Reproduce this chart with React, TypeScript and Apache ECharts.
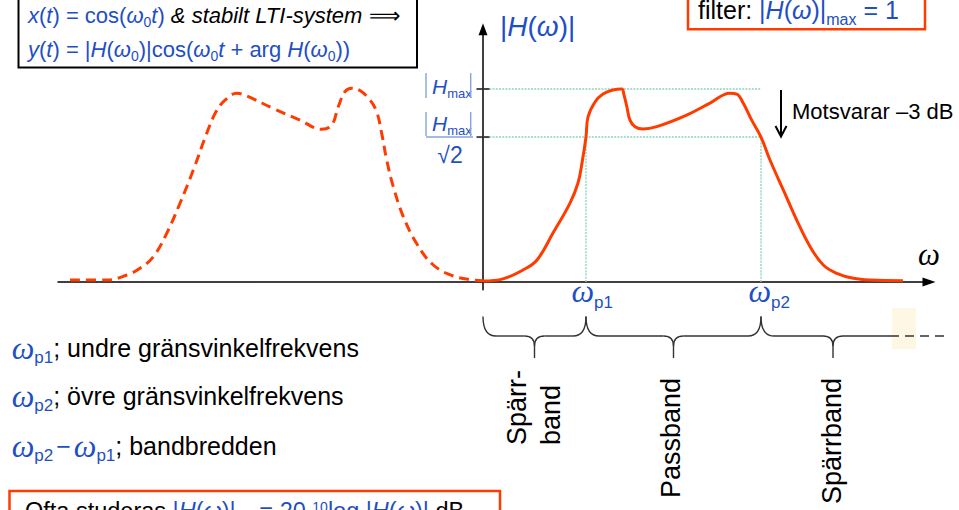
import React, { useEffect, useRef } from "react";
import * as echarts from "echarts";

// ---------- data ----------
// passband magnitude |H(w)| for w >= 0 (solid curve)
const omegaRight = [0.0, 0.2, 0.4, 0.54, 0.7, 0.87, 0.95, 0.99, 1.03, 1.05, 1.12, 1.2, 1.3, 1.387, 1.41, 1.437, 1.47, 1.52, 1.6, 1.737, 2.037, 2.27, 2.47, 2.537, 2.603, 2.687, 2.78, 2.87, 3.003, 3.137, 3.27, 3.403, 3.537, 3.703, 3.87, 4.2];
const magRight = [0.005, 0.016, 0.062, 0.114, 0.254, 0.409, 0.513, 0.616, 0.751, 0.855, 0.933, 0.974, 0.995, 1.0, 0.969, 0.912, 0.839, 0.805, 0.793, 0.805, 0.865, 0.927, 0.978, 0.974, 0.926, 0.839, 0.751, 0.632, 0.477, 0.321, 0.184, 0.088, 0.045, 0.019, 0.01, 0.007];
// mirrored magnitude for w < 0 (dashed curve)
const omegaLeft = [-4.13, -3.763, -3.563, -3.43, -3.297, -3.163, -3.03, -2.897, -2.763, -2.663, -2.563, -2.463, -2.363, -2.097, -1.83, -1.613, -1.513, -1.447, -1.38, -1.313, -1.23, -1.13, -1.063, -1.013, -0.963, -0.897, -0.797, -0.663, -0.497, -0.297, -0.097, 0.0];
const magLeft = [0.01, 0.01, 0.036, 0.071, 0.131, 0.252, 0.408, 0.58, 0.77, 0.889, 0.95, 0.978, 0.964, 0.899, 0.839, 0.791, 0.813, 0.908, 0.986, 1.004, 0.992, 0.943, 0.882, 0.77, 0.632, 0.494, 0.339, 0.199, 0.088, 0.031, 0.01, 0.007];
// levels and band edges
const H_MAX = 1;
const H_CUT = 0.751;
const W_P1 = 1.03;
const W_P2 = 2.78;
const STOP_CENTER = 3.5;
const ARROW_AT = 2.98;
// texts
const bandLabels = ["Spärr-\nband", "Passband", "Spärrband"];
const leftLines = [
  "{w|ω}{s|p1}{k|; undre gränsvinkelfrekvens}",
  "{w|ω}{s|p2}{k|; övre gränsvinkelfrekvens}",
  "{w|ω}{s|p2}{m|−}{w|ω}{s|p1}{k|; bandbredden}",
];

const ORANGE = "#ff3c00";
const BLUE = "#1f4fc4";
const LIGHTBLUE = "#86a2e2";
const GREEN = "#8ed5bb";
const SANS = "'Liberation Sans', Arial, Helvetica, sans-serif";
const SERIF = "'Liberation Serif', 'Times New Roman', serif";

function zip(a: number[], b: number[]) {
  return a.map((v, i) => [v, b[i]]);
}

function rs(fill: string, size: number, lh: number, extra: any = {}) {
  return { fill, fontSize: size, fontFamily: SANS, lineHeight: lh, verticalAlign: "middle", ...extra };
}

function textEl(x: number, y: number, text: string, rich: any, opts: any = {}) {
  const align = opts.align || "left";
  return {
    type: "text",
    x,
    y,
    rotation: opts.rotation || 0,
    silent: true,
    z: 20,
    style: {
      text,
      rich,
      align,
      textAlign: align,
      verticalAlign: "middle",
      textVerticalAlign: "middle",
      fill: opts.fill || "#000",
      fontSize: opts.fontSize || 20,
      fontFamily: opts.fontFamily || SANS,
      fontStyle: opts.fontStyle || "normal",
      lineHeight: opts.lineHeight,
    },
  };
}

function brace(xa: number, xm: number, xb: number | null, xEnd: number, y0: number, y1: number, y2: number) {
  const s = { stroke: "#333", lineWidth: 1.4, fill: "none" };
  const r = 13;
  const r2 = 10;
  const els: any[] = [
    { type: "bezierCurve", shape: { x1: xa, y1: y0, cpx1: xa, cpy1: y1, x2: xa + r, y2: y1 }, style: s },
    { type: "line", shape: { x1: xa + r, y1: y1, x2: xm - r2, y2: y1 }, style: s },
    { type: "bezierCurve", shape: { x1: xm - r2, y1: y1, cpx1: xm, cpy1: y1, x2: xm, y2: y1 + r2 }, style: s },
    { type: "line", shape: { x1: xm, y1: y1 + r2, x2: xm, y2: y2 }, style: s },
    { type: "bezierCurve", shape: { x1: xm + r2, y1: y1, cpx1: xm, cpy1: y1, x2: xm, y2: y1 + r2 }, style: s },
  ];
  if (xb !== null) {
    els.push({ type: "line", shape: { x1: xm + r2, y1: y1, x2: xb - r, y2: y1 }, style: s });
    els.push({ type: "bezierCurve", shape: { x1: xb - r, y1: y1, cpx1: xb, cpy1: y1, x2: xb, y2: y0 }, style: s });
  } else {
    els.push({ type: "line", shape: { x1: xm + r2, y1: y1, x2: xEnd, y2: y1 }, style: s });
  }
  return els.map((e) => ({ ...e, silent: true, z: 15 }));
}

function guide(points: number[][]) {
  return {
    type: "line",
    data: points,
    symbol: "none",
    silent: true,
    z: 1,
    lineStyle: { color: GREEN, width: 1.4, type: [2, 1.2] },
  };
}

const axisCommon = {
  type: "value",
  axisTick: { show: false },
  axisLabel: { show: false },
  splitLine: { show: false },
};

const baseOption: any = {
  animation: false,
  grid: { left: 58, right: 30, top: 29.2, bottom: 220.3 },
  xAxis: {
    ...axisCommon,
    min: -4.25,
    max: 4.46,
    axisLine: { show: true, onZero: true, symbol: ["none", "triangle"], symbolSize: [9, 13], lineStyle: { color: "#000", width: 1.5 } },
  },
  yAxis: {
    ...axisCommon,
    min: -0.04,
    max: 1.31,
    axisLine: { show: true, onZero: true, symbol: ["none", "triangle"], symbolSize: [9, 12], lineStyle: { color: "#000", width: 1.5 } },
  },
  series: [
    guide([[0, H_MAX], [W_P2, H_MAX]]),
    guide([[0, H_CUT], [W_P2, H_CUT]]),
    guide([[W_P1, 0], [W_P1, H_CUT]]),
    guide([[W_P2, 0], [W_P2, H_CUT]]),
    {
      type: "line",
      data: zip(omegaLeft, magLeft),
      smooth: 0.4,
      symbol: "none",
      silent: true,
      z: 3,
      lineStyle: { color: ORANGE, width: 3, type: [10, 6] },
    },
    {
      type: "line",
      data: zip(omegaRight, magRight),
      smooth: 0.4,
      symbol: "none",
      silent: true,
      z: 4,
      lineStyle: { color: ORANGE, width: 3 },
    },
    {
      type: "scatter",
      data: [[0, H_MAX], [0, H_CUT]],
      symbol: "rect",
      symbolSize: [13, 2],
      silent: true,
      z: 6,
      itemStyle: { color: "#222" },
    },
  ],
};

function buildGraphics(p: (x: number, y: number) => number[]) {
  const [ox, oy] = p(0, 0);
  const yH = p(0, H_MAX)[1];
  const yC = p(0, H_CUT)[1];
  const x1 = p(W_P1, 0)[0];
  const x2 = p(W_P2, 0)[0];
  const x3 = p(STOP_CENTER, 0)[0];
  const xa = p(ARROW_AT, 0)[0];
  const els: any[] = [];

  // top-left box
  els.push({ type: "rect", shape: { x: 18.5, y: -20, width: 398.5, height: 87.5 }, style: { fill: "none", stroke: "#000", lineWidth: 2 }, silent: true, z: 5 });
  const tl = {
    b: rs(BLUE, 22, 26),
    bi: rs(BLUE, 22, 26, { fontStyle: "italic" }),
    k: rs("#000", 22, 26),
    ki: rs("#000", 22, 26, { fontStyle: "italic" }),
    s: rs(BLUE, 14, 14, { padding: [6.8, 0, -6.8, 0] }),
  };
  els.push(textEl(28, 15, "{bi|x}{b|(}{bi|t}{b|) = cos(}{bi|ω}{s|0}{bi|t}{b|)}{ki| & stabilt LTI-system }{k|⟹}", tl));
  els.push(textEl(28, 49, "{bi|y}{b|(}{bi|t}{b|) = |}{bi|H}{b|(}{bi|ω}{s|0}{b|)|cos(}{bi|ω}{s|0}{bi|t}{b| + arg }{bi|H}{b|(}{bi|ω}{s|0}{b|))}", tl));

  // top-right box
  els.push({ type: "rect", shape: { x: 688, y: -20, width: 237, height: 49.3 }, style: { fill: "none", stroke: ORANGE, lineWidth: 2.5 }, silent: true, z: 5 });
  const tr = {
    b: rs(BLUE, 25, 19),
    bi: rs(BLUE, 25, 19, { fontStyle: "italic" }),
    k: rs("#000", 25, 19),
    s: rs(BLUE, 16, 16, { padding: [9.8, 0, -9.8, 0] }),
  };
  els.push(textEl(698, 9.6, "{k|filter: }{b||}{bi|H}{b|(}{bi|ω}{b|)|}{s|max}{b| = 1}", tr));

  // |H(w)| axis title
  const big = { b: rs(BLUE, 28, 34), bi: rs(BLUE, 28, 34, { fontStyle: "italic" }) };
  els.push(textEl(ox + 17, 26, "{b||}{bi|H}{b|(}{bi|ω}{b|)|}", big));

  // |Hmax| and |Hmax|/sqrt2 labels
  const hm = {
    bi: rs(BLUE, 21, 24, { fontStyle: "italic" }),
    b: rs(BLUE, 23, 24),
    s: rs(BLUE, 13, 13, { padding: [7.2, 0, -7.2, 0] }),
  };
  const bar = { stroke: LIGHTBLUE, lineWidth: 1.4 };
  els.push(textEl(ox - 51, yH - 3, "{bi|H}{s|max}", hm));
  els.push({ type: "line", shape: { x1: ox - 57, y1: yH - 16, x2: ox - 57, y2: yH + 9 }, style: bar, silent: true, z: 20 });
  els.push({ type: "line", shape: { x1: ox - 12.3, y1: yH - 16, x2: ox - 12.3, y2: yH + 9 }, style: bar, silent: true, z: 20 });
  els.push(textEl(ox - 51, yC - 14, "{bi|H}{s|max}", hm));
  els.push({ type: "line", shape: { x1: ox - 57, y1: yC - 25, x2: ox - 57, y2: yC - 1 }, style: bar, silent: true, z: 20 });
  els.push({ type: "line", shape: { x1: ox - 12.3, y1: yC - 25, x2: ox - 12.3, y2: yC - 1 }, style: bar, silent: true, z: 20 });
  els.push({ type: "line", shape: { x1: ox - 57, y1: yC, x2: ox - 10, y2: yC }, style: bar, silent: true, z: 20 });
  els.push(textEl(ox - 33, yC + 18, "{b|√2}", hm, { align: "center" }));

  // -3 dB arrow
  const arrowStyle = { stroke: "#000", lineWidth: 2, fill: "none" };
  els.push({ type: "line", shape: { x1: xa, y1: yH + 1, x2: xa, y2: yC - 1 }, style: arrowStyle, silent: true, z: 20 });
  els.push({ type: "polyline", shape: { points: [[xa - 5.5, yC - 11], [xa, yC - 0.5], [xa + 5.5, yC - 11]] }, style: arrowStyle, silent: true, z: 20 });
  els.push(textEl(xa + 11, (yH + yC) / 2 - 1.4, "Motsvarar –3 dB", null, { fontSize: 22 }));

  // omega axis label
  els.push(textEl(918, 254.5, "ω", null, { fontSize: 31, fontFamily: SERIF, fontStyle: "italic" }));

  // omega_p labels
  const wp = {
    w: rs(BLUE, 32, 30, { fontFamily: SERIF, fontStyle: "italic" }),
    s: rs(BLUE, 17, 17, { padding: [11.2, 0, -11.2, 0] }),
  };
  els.push(textEl(x1 - 14.5, oy + 9.2, "{w|ω}{s|p1}", wp));
  els.push(textEl(x2 - 12.5, oy + 9.2, "{w|ω}{s|p2}", wp));

  // braces
  const by0 = 316.5;
  const by1 = 336;
  const by2 = 358;
  els.push({ type: "rect", shape: { x: 892, y: 308, width: 24, height: 41 }, style: { fill: "#fdf7e4" }, silent: true, z: 10 });
  brace(ox, (ox + x1) / 2, x1, 0, by0, by1, by2).forEach((e) => els.push(e));
  brace(x1, (x1 + x2) / 2, x2, 0, by0, by1, by2).forEach((e) => els.push(e));
  brace(x2, x3, null, 890, by0, by1, by2).forEach((e) => els.push(e));
  els.push({ type: "line", shape: { x1: 890, y1: by1, x2: 947, y2: by1 }, style: { stroke: "#333", lineWidth: 1.4, lineDash: [9, 6] }, silent: true, z: 15 });

  // band labels (rotated)
  els.push(textEl((ox + x1) / 2 - 0.5, 445, bandLabels[0], null, { rotation: Math.PI / 2, fontSize: 27, lineHeight: 34, align: "left" }));
  els.push(textEl((x1 + x2) / 2 - 2.5, 378, bandLabels[1], null, { rotation: Math.PI / 2, fontSize: 27, align: "right" }));
  els.push(textEl(x3 - 1, 378, bandLabels[2], null, { rotation: Math.PI / 2, fontSize: 27, align: "right" }));

  // left explanatory lines
  const lr = {
    w: rs(BLUE, 32, 30, { fontFamily: SERIF, fontStyle: "italic" }),
    s: rs(BLUE, 17, 17, { padding: [9.4, 0, -9.4, 0] }),
    k: rs("#000", 25, 30),
    m: rs(BLUE, 25, 30, { padding: [0, 3, 0, 3] }),
  };
  const ly = [348, 396.3, 446.3];
  leftLines.forEach((t, i) => els.push(textEl(11.7, ly[i], t, lr)));

  // bottom box
  els.push({ type: "rect", shape: { x: 9.5, y: 491, width: 490.5, height: 40 }, style: { fill: "none", stroke: ORANGE, lineWidth: 2.5 }, silent: true, z: 5 });
  const bb = {
    b: rs(BLUE, 23.5, 26),
    bi: rs(BLUE, 23.5, 26, { fontStyle: "italic" }),
    k: rs("#000", 23.5, 26),
    s: rs(BLUE, 14, 14, { padding: [7, 0, -7, 0] }),
    u: rs(BLUE, 14, 14, { padding: [-3.9, 0, 3.9, 0] }),
  };
  els.push(textEl(25, 510.8, "{k|Ofta studeras }{b||}{bi|H}{b|(}{bi|ω}{b|)|}{s|dB}{b| = 20 }{u|10}{b|log |}{bi|H}{b|(}{bi|ω}{b|)|}{k| dB}", bb));

  return els;
}

export default function App() {
  const ref = useRef<HTMLDivElement>(null);
  useEffect(() => {
    if (!ref.current) return;
    const chart = echarts.init(ref.current, undefined, { renderer: "svg" });
    chart.setOption(baseOption);
    const p = (x: number, y: number) => chart.convertToPixel({ gridIndex: 0 }, [x, y]) as number[];
    chart.setOption({ graphic: { elements: buildGraphics(p) } });
    return () => chart.dispose();
  }, []);
  return <div ref={ref} style={{ position: "fixed", left: 0, top: 0, width: 959, height: 510, background: "#fff" }} />;
}
